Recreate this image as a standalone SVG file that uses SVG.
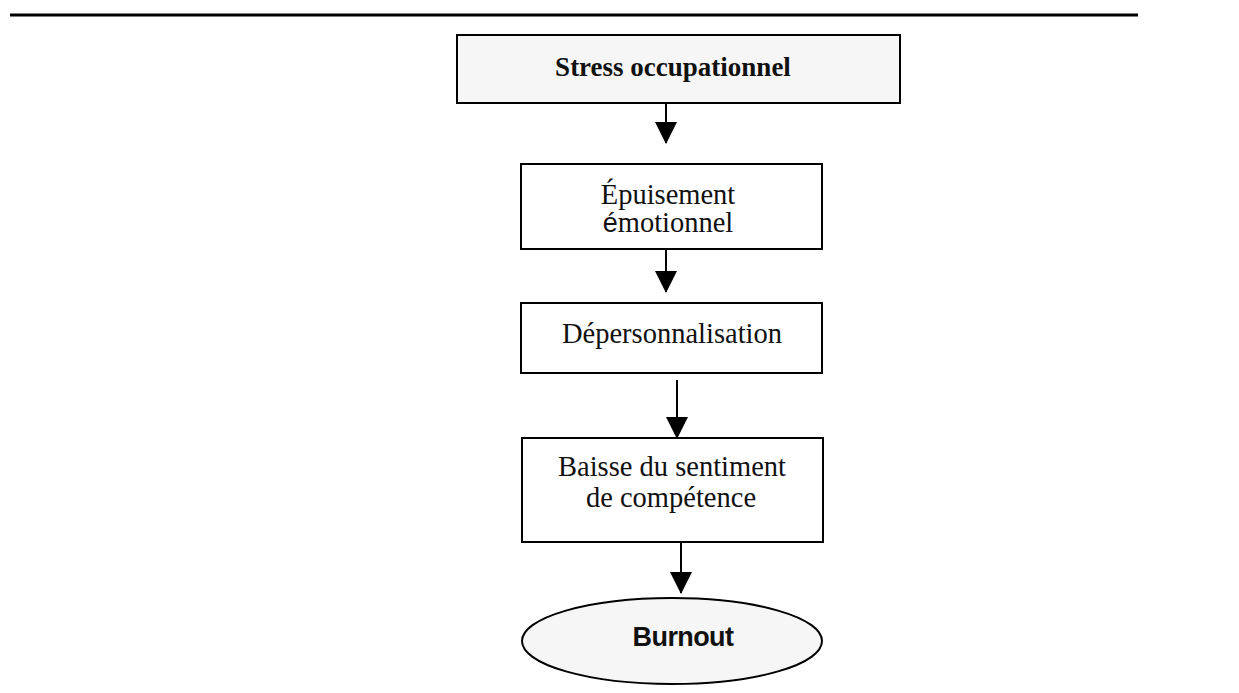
<svg xmlns="http://www.w3.org/2000/svg" width="1239" height="693" viewBox="0 0 1239 693">
  <style>
    .box { fill: #ffffff; stroke: #000000; stroke-width: 2; }
    .shaded { fill: #f6f6f6; }
    .t { font-family: "Liberation Serif", "Times New Roman", serif; font-size: 28.5px; fill: #111111; text-anchor: middle; }
    .tb { font-family: "Liberation Serif", "Times New Roman", serif; font-size: 27px; font-weight: bold; fill: #111111; text-anchor: middle; }
    .ts { font-family: "Liberation Sans", Arial, sans-serif; font-size: 27px; font-weight: bold; fill: #111111; text-anchor: middle; letter-spacing: -0.6px; }
    .conn { stroke: #000000; stroke-width: 2; fill: none; marker-end: url(#arrow); }
  </style>
  <defs>
    <marker id="arrow" markerUnits="userSpaceOnUse" markerWidth="22" markerHeight="22" refX="21" refY="11" orient="auto" viewBox="0 0 22 22">
      <path d="M0,0 L22,11 L0,22 Z" fill="#000000"/>
    </marker>
  </defs>

  <rect width="1239" height="693" fill="#ffffff"/>
  <line x1="10" y1="15" x2="1138" y2="15" stroke="#000000" stroke-width="3"/>

  <g id="connectors">
    <line class="conn" x1="666" y1="103" x2="666" y2="143"/>
    <line class="conn" x1="666" y1="249" x2="666" y2="292"/>
    <line class="conn" x1="677" y1="380" x2="677" y2="438"/>
    <line class="conn" x1="681" y1="542" x2="681" y2="593"/>
  </g>

  <g id="node-stress">
    <rect class="box shaded" x="457" y="35" width="443" height="68"/>
    <text class="tb" x="673" y="76">Stress occupationnel</text>
  </g>

  <g id="node-epuisement">
    <rect class="box" x="521" y="164" width="301" height="85"/>
    <text class="t" x="668" y="204">Épuisement</text>
    <text class="t" x="668" y="232"><tspan font-family="Liberation Sans, Arial, sans-serif" font-size="27px">é</tspan>motionnel</text>
  </g>

  <g id="node-depersonnalisation">
    <rect class="box" x="521" y="303" width="301" height="70"/>
    <text class="t" x="672" y="343">Dépersonnalisation</text>
  </g>

  <g id="node-baisse">
    <rect class="box" x="522" y="438" width="301" height="104"/>
    <text class="t" x="672" y="476">Baisse du sentiment</text>
    <text class="t" x="671" y="507">de compétence</text>
  </g>

  <g id="node-burnout">
    <ellipse class="box shaded" cx="672" cy="641" rx="150" ry="43"/>
    <text class="ts" x="683" y="646">Burnout</text>
  </g>
</svg>
